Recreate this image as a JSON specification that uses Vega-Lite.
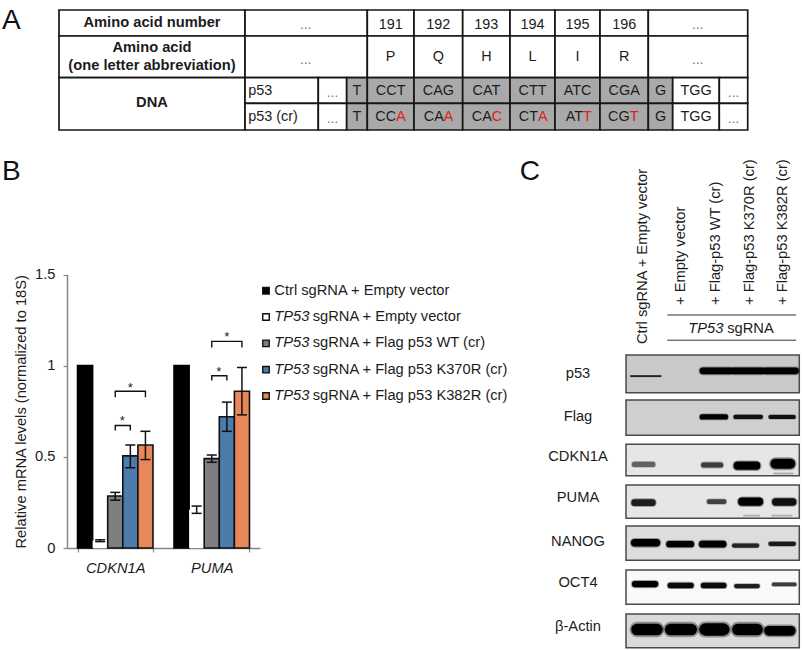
{
"$schema":"https://vega.github.io/schema/vega-lite/v6.json",
"width":802,"height":650,"padding":0,"autosize":{"type":"none"},"background":"white",
"config":{"font":"Liberation Sans","view":{"stroke":null},"text":{"color":"#1c1c1c"}},
"resolve":{"scale":{"x":"independent","y":"independent","fill":"independent","stroke":"independent","strokeWidth":"independent"}},
"datasets":{
"letters":[{"letter":"A","fx":0.0025,"fy":0.032},{"letter":"B","fx":0.0025,"fy":0.264},{"letter":"C","fx":0.648,"fy":0.264}],
"cells":[
{"c0":0,"c1":1,"r0":0,"r1":1,"shade":"plain"},{"c0":1,"c1":4,"r0":0,"r1":1,"shade":"plain"},{"c0":4,"c1":5,"r0":0,"r1":1,"shade":"plain"},{"c0":5,"c1":6,"r0":0,"r1":1,"shade":"plain"},{"c0":6,"c1":7,"r0":0,"r1":1,"shade":"plain"},{"c0":7,"c1":8,"r0":0,"r1":1,"shade":"plain"},{"c0":8,"c1":9,"r0":0,"r1":1,"shade":"plain"},{"c0":9,"c1":10,"r0":0,"r1":1,"shade":"plain"},{"c0":10,"c1":13,"r0":0,"r1":1,"shade":"plain"},
{"c0":0,"c1":1,"r0":1,"r1":2,"shade":"plain"},{"c0":1,"c1":4,"r0":1,"r1":2,"shade":"plain"},{"c0":4,"c1":5,"r0":1,"r1":2,"shade":"plain"},{"c0":5,"c1":6,"r0":1,"r1":2,"shade":"plain"},{"c0":6,"c1":7,"r0":1,"r1":2,"shade":"plain"},{"c0":7,"c1":8,"r0":1,"r1":2,"shade":"plain"},{"c0":8,"c1":9,"r0":1,"r1":2,"shade":"plain"},{"c0":9,"c1":10,"r0":1,"r1":2,"shade":"plain"},{"c0":10,"c1":13,"r0":1,"r1":2,"shade":"plain"},
{"c0":0,"c1":1,"r0":2,"r1":4,"shade":"plain"},
{"c0":1,"c1":2,"r0":2,"r1":3,"shade":"plain"},{"c0":2,"c1":3,"r0":2,"r1":3,"shade":"plain"},{"c0":3,"c1":4,"r0":2,"r1":3,"shade":"seq"},{"c0":4,"c1":5,"r0":2,"r1":3,"shade":"seq"},{"c0":5,"c1":6,"r0":2,"r1":3,"shade":"seq"},{"c0":6,"c1":7,"r0":2,"r1":3,"shade":"seq"},{"c0":7,"c1":8,"r0":2,"r1":3,"shade":"seq"},{"c0":8,"c1":9,"r0":2,"r1":3,"shade":"seq"},{"c0":9,"c1":10,"r0":2,"r1":3,"shade":"seq"},{"c0":10,"c1":11,"r0":2,"r1":3,"shade":"seq"},{"c0":11,"c1":12,"r0":2,"r1":3,"shade":"plain"},{"c0":12,"c1":13,"r0":2,"r1":3,"shade":"plain"},
{"c0":1,"c1":2,"r0":3,"r1":4,"shade":"plain"},{"c0":2,"c1":3,"r0":3,"r1":4,"shade":"plain"},{"c0":3,"c1":4,"r0":3,"r1":4,"shade":"seq"},{"c0":4,"c1":5,"r0":3,"r1":4,"shade":"seq"},{"c0":5,"c1":6,"r0":3,"r1":4,"shade":"seq"},{"c0":6,"c1":7,"r0":3,"r1":4,"shade":"seq"},{"c0":7,"c1":8,"r0":3,"r1":4,"shade":"seq"},{"c0":8,"c1":9,"r0":3,"r1":4,"shade":"seq"},{"c0":9,"c1":10,"r0":3,"r1":4,"shade":"seq"},{"c0":10,"c1":11,"r0":3,"r1":4,"shade":"seq"},{"c0":11,"c1":12,"r0":3,"r1":4,"shade":"plain"},{"c0":12,"c1":13,"r0":3,"r1":4,"shade":"plain"}
],
"tableBold":[{"c":0.5,"r":0.5,"t":"Amino acid number"},{"c":0.5,"r":1.28,"t":"Amino acid"},{"c":0.5,"r":1.72,"t":"(one letter abbreviation)"},{"c":0.5,"r":3.0,"t":"DNA"}],
"tableText":[
{"c":4.5,"r":0.58,"t":"191"},{"c":5.5,"r":0.58,"t":"192"},{"c":6.5,"r":0.58,"t":"193"},{"c":7.5,"r":0.58,"t":"194"},{"c":8.5,"r":0.58,"t":"195"},{"c":9.5,"r":0.58,"t":"196"},
{"c":4.5,"r":1.5,"t":"P"},{"c":5.5,"r":1.5,"t":"Q"},{"c":6.5,"r":1.5,"t":"H"},{"c":7.5,"r":1.5,"t":"L"},{"c":8.5,"r":1.5,"t":"I"},{"c":9.5,"r":1.5,"t":"R"},
{"c":3.5,"r":2.5,"t":"T"},{"c":4.5,"r":2.5,"t":"CCT"},{"c":5.5,"r":2.5,"t":"CAG"},{"c":6.5,"r":2.5,"t":"CAT"},{"c":7.5,"r":2.5,"t":"CTT"},{"c":8.5,"r":2.5,"t":"ATC"},{"c":9.5,"r":2.5,"t":"CGA"},{"c":10.5,"r":2.5,"t":"G"},{"c":11.5,"r":2.5,"t":"TGG"},
{"c":3.5,"r":3.5,"t":"T"},{"c":10.5,"r":3.5,"t":"G"},{"c":11.5,"r":3.5,"t":"TGG"}],
"tableDots":[{"c":1.83,"r":0.58},{"c":11.54,"r":0.58},{"c":1.83,"r":1.58},{"c":11.54,"r":1.58},{"c":2.5,"r":2.6},{"c":12.5,"r":2.6},{"c":2.5,"r":3.6},{"c":12.5,"r":3.6}],
"tableLeft":[{"c":1.045,"r":2.5,"t":"p53"},{"c":1.045,"r":3.5,"t":"p53 (cr)"}],
"codons":[{"c":4.5,"r":3.5,"base":"CC","edit":"A"},{"c":5.5,"r":3.5,"base":"CA","edit":"A"},{"c":6.5,"r":3.5,"base":"CA","edit":"C"},{"c":7.5,"r":3.5,"base":"CT","edit":"A"},{"c":8.5,"r":3.5,"base":"AT","edit":"T"},{"c":9.5,"r":3.5,"base":"CG","edit":"T"}],
"bars":[
{"gene":"CDKN1A","group":"Ctrl","value":1},
{"gene":"CDKN1A","group":"Empty","value":0.04},
{"gene":"CDKN1A","group":"WT","value":0.285},
{"gene":"CDKN1A","group":"K370R","value":0.505},
{"gene":"CDKN1A","group":"K382R","value":0.565},
{"gene":"PUMA","group":"Ctrl","value":1},
{"gene":"PUMA","group":"Empty","value":0.21},
{"gene":"PUMA","group":"WT","value":0.49},
{"gene":"PUMA","group":"K370R","value":0.72},
{"gene":"PUMA","group":"K382R","value":0.86}],
"errors":[
{"gene":"CDKN1A","group":"Empty","low":0.035,"high":0.045},
{"gene":"CDKN1A","group":"WT","low":0.262,"high":0.305},
{"gene":"CDKN1A","group":"K370R","low":0.44,"high":0.565},
{"gene":"CDKN1A","group":"K382R","low":0.485,"high":0.64},
{"gene":"PUMA","group":"Empty","low":0.19,"high":0.23},
{"gene":"PUMA","group":"WT","low":0.47,"high":0.51},
{"gene":"PUMA","group":"K370R","low":0.64,"high":0.8},
{"gene":"PUMA","group":"K382R","low":0.73,"high":0.99}],
"brackets":[
{"b":"c1","gene":"CDKN1A","group":"WT","level":0.645,"o":1},{"b":"c1","gene":"CDKN1A","group":"WT","level":0.672,"o":2},{"b":"c1","gene":"CDKN1A","group":"K370R","level":0.672,"o":3},{"b":"c1","gene":"CDKN1A","group":"K370R","level":0.645,"o":4},
{"b":"c2","gene":"CDKN1A","group":"WT","level":0.827,"o":1},{"b":"c2","gene":"CDKN1A","group":"WT","level":0.86,"o":2},{"b":"c2","gene":"CDKN1A","group":"K382R","level":0.86,"o":3},{"b":"c2","gene":"CDKN1A","group":"K382R","level":0.827,"o":4},
{"b":"p1","gene":"PUMA","group":"WT","level":0.918,"o":1},{"b":"p1","gene":"PUMA","group":"WT","level":0.945,"o":2},{"b":"p1","gene":"PUMA","group":"K370R","level":0.945,"o":3},{"b":"p1","gene":"PUMA","group":"K370R","level":0.918,"o":4},
{"b":"p2","gene":"PUMA","group":"WT","level":1.10,"o":1},{"b":"p2","gene":"PUMA","group":"WT","level":1.133,"o":2},{"b":"p2","gene":"PUMA","group":"K382R","level":1.133,"o":3},{"b":"p2","gene":"PUMA","group":"K382R","level":1.10,"o":4}],
"starsLong":[{"gene":"CDKN1A","group":"K370R","level":0.875,"t":"*"},{"gene":"PUMA","group":"K370R","level":1.155,"t":"*"}],
"starsShort":[{"gene":"CDKN1A","group":"WT","level":0.694,"t":"*"},{"gene":"PUMA","group":"WT","level":0.963,"t":"*"}],
"swatches":[{"group":"Ctrl","slot":0},{"group":"Empty","slot":0},{"group":"WT","slot":0},{"group":"K370R","slot":0},{"group":"K382R","slot":0}],
"legendPlain":[{"group":"Ctrl","slot":1,"t":"Ctrl sgRNA + Empty vector"}],
"legendLead":[{"group":"Empty","slot":1,"t":"TP53"},{"group":"WT","slot":1,"t":"TP53"},{"group":"K370R","slot":1,"t":"TP53"},{"group":"K382R","slot":1,"t":"TP53"}],
"legendRest":[{"group":"Empty","slot":2,"t":"sgRNA + Empty vector"},{"group":"WT","slot":2,"t":"sgRNA + Flag p53 WT (cr)"},{"group":"K370R","slot":2,"t":"sgRNA + Flag p53 K370R (cr)"},{"group":"K382R","slot":2,"t":"sgRNA + Flag p53 K382R (cr)"}],
"panels":[
{"protein":"p53","top":0,"bottom":1,"left":0,"right":5,"labelAt":0.5,"labelLane":-1.385},
{"protein":"Flag","top":2,"bottom":3,"left":0,"right":5,"labelAt":2.47,"labelLane":-1.385},
{"protein":"CDKN1A","top":4,"bottom":5,"left":0,"right":5,"labelAt":4.39,"labelLane":-1.385},
{"protein":"PUMA","top":6,"bottom":7,"left":0,"right":5,"labelAt":6.38,"labelLane":-1.385},
{"protein":"NANOG","top":8,"bottom":9,"left":0,"right":5,"labelAt":8.46,"labelLane":-1.385},
{"protein":"OCT4","top":10,"bottom":11,"left":0,"right":5,"labelAt":10.38,"labelLane":-1.385},
{"protein":"β-Actin","top":12,"bottom":13,"left":0,"right":5,"labelAt":12.39,"labelLane":-1.385}],
"bands":[
{"protein":"p53","start":0.14,"end":1.0,"at":0.56,"thick":0.12,"intensity":0.85},
{"protein":"p53","start":2.22,"end":2.99,"at":0.42,"thick":0.52,"intensity":1},
{"protein":"p53","start":3.1,"end":3.93,"at":0.42,"thick":0.52,"intensity":1},
{"protein":"p53","start":4.05,"end":4.89,"at":0.42,"thick":0.52,"intensity":1},
{"protein":"Flag","start":2.2,"end":2.87,"at":2.48,"thick":0.4,"intensity":1},
{"protein":"Flag","start":3.16,"end":3.89,"at":2.48,"thick":0.33,"intensity":0.95},
{"protein":"Flag","start":4.17,"end":4.84,"at":2.48,"thick":0.31,"intensity":0.95},
{"protein":"CDKN1A","start":0.245,"end":0.77,"at":4.64,"thick":0.4,"intensity":0.55},
{"protein":"CDKN1A","start":2.24,"end":2.73,"at":4.66,"thick":0.4,"intensity":0.72},
{"protein":"CDKN1A","start":3.22,"end":3.76,"at":4.68,"thick":0.62,"intensity":1},
{"protein":"CDKN1A","start":4.31,"end":4.74,"at":4.62,"thick":0.76,"intensity":1},
{"protein":"CDKN1A","start":4.27,"end":4.81,"at":4.93,"thick":0.12,"intensity":0.25},
{"protein":"PUMA","start":0.25,"end":0.76,"at":6.53,"thick":0.52,"intensity":0.88},
{"protein":"PUMA","start":2.4,"end":2.83,"at":6.5,"thick":0.36,"intensity":0.7},
{"protein":"PUMA","start":3.35,"end":3.84,"at":6.5,"thick":0.62,"intensity":1},
{"protein":"PUMA","start":4.32,"end":4.81,"at":6.51,"thick":0.57,"intensity":0.95},
{"protein":"PUMA","start":3.4,"end":3.85,"at":6.92,"thick":0.12,"intensity":0.2},
{"protein":"PUMA","start":4.22,"end":4.78,"at":6.92,"thick":0.12,"intensity":0.2},
{"protein":"NANOG","start":0.25,"end":0.88,"at":8.49,"thick":0.57,"intensity":1},
{"protein":"NANOG","start":1.25,"end":1.875,"at":8.53,"thick":0.48,"intensity":1},
{"protein":"NANOG","start":2.2,"end":2.8,"at":8.53,"thick":0.52,"intensity":1},
{"protein":"NANOG","start":3.12,"end":3.78,"at":8.57,"thick":0.33,"intensity":0.85},
{"protein":"NANOG","start":4.17,"end":4.84,"at":8.52,"thick":0.33,"intensity":0.9},
{"protein":"OCT4","start":0.26,"end":0.84,"at":10.41,"thick":0.48,"intensity":1},
{"protein":"OCT4","start":1.28,"end":1.875,"at":10.45,"thick":0.43,"intensity":0.97},
{"protein":"OCT4","start":2.24,"end":2.82,"at":10.45,"thick":0.43,"intensity":0.97},
{"protein":"OCT4","start":3.18,"end":3.8,"at":10.47,"thick":0.33,"intensity":0.88},
{"protein":"OCT4","start":4.26,"end":4.87,"at":10.42,"thick":0.29,"intensity":0.72},
{"protein":"β-Actin","start":0.32,"end":0.89,"at":12.46,"thick":0.9,"intensity":1},
{"protein":"β-Actin","start":1.29,"end":1.88,"at":12.46,"thick":0.9,"intensity":1},
{"protein":"β-Actin","start":2.29,"end":2.81,"at":12.46,"thick":0.95,"intensity":1},
{"protein":"β-Actin","start":3.23,"end":3.78,"at":12.46,"thick":0.9,"intensity":1},
{"protein":"β-Actin","start":4.13,"end":4.75,"at":12.5,"thick":0.76,"intensity":1}],
"laneLabels":[
{"lane":0.5,"at":-0.055,"t":"Ctrl sgRNA + Empty vector"},
{"lane":1.59,"at":-0.25,"t":"+ Empty vector"},
{"lane":2.6,"at":-0.25,"t":"+ Flag-p53 WT (cr)"},
{"lane":3.58,"at":-0.25,"t":"+ Flag-p53 K370R (cr)"},
{"lane":4.54,"at":-0.25,"t":"+ Flag-p53 K382R (cr)"}],
"laneRules":[{"start":1.19,"end":4.91,"at":-0.2},{"start":1.19,"end":4.91,"at":-0.074}],
"sgLead":[{"lane":2.81,"at":-0.13,"t":"TP53"}],
"sgRest":[{"lane":2.92,"at":-0.13,"t":"sgRNA"}]
},
"layer":[
{"data":{"name":"letters"},"mark":{"type":"text","fontSize":28,"align":"left","baseline":"middle","color":"#111"},
 "encoding":{"x":{"field":"fx","type":"quantitative","axis":null,"scale":{"domain":[0,1],"range":[0,802]}},"y":{"field":"fy","type":"quantitative","axis":null,"scale":{"domain":[0,1],"range":[0,650]}},"text":{"field":"letter"}}},
{"layer":[
 {"data":{"name":"cells"},"mark":{"type":"rect","stroke":"#161616","strokeWidth":1.7},
  "encoding":{"x":{"field":"c0","type":"quantitative","axis":null,"scale":{"domain":[0,1,2,3,4,5,6,7,8,9,10,11,12,13],"range":[59,245,318.3,346.7,367.3,414,462.7,510,555,600,648.3,672.7,719.3,747.7]}},"x2":{"field":"c1"},
  "y":{"field":"r0","type":"quantitative","axis":null,"scale":{"domain":[0,1,2,3,4],"range":[10,36,77.7,103.3,130]}},"y2":{"field":"r1"},
  "fill":{"field":"shade","type":"nominal","legend":null,"scale":{"domain":["plain","seq"],"range":["#ffffff","#a9a9a9"]}}}},
 {"data":{"name":"tableBold"},"mark":{"type":"text","fontSize":14.7,"fontWeight":"bold","baseline":"middle"},
  "encoding":{"x":{"field":"c","type":"quantitative"},"y":{"field":"r","type":"quantitative"},"text":{"field":"t"}}},
 {"data":{"name":"tableText"},"mark":{"type":"text","fontSize":14.4,"baseline":"middle"},
  "encoding":{"x":{"field":"c","type":"quantitative"},"y":{"field":"r","type":"quantitative"},"text":{"field":"t"}}},
 {"data":{"name":"tableLeft"},"mark":{"type":"text","fontSize":14.4,"baseline":"middle","align":"left"},
  "encoding":{"x":{"field":"c","type":"quantitative"},"y":{"field":"r","type":"quantitative"},"text":{"field":"t"}}},
 {"data":{"name":"tableDots"},"mark":{"type":"text","fontSize":12,"baseline":"middle","color":"#666666","text":"…"},
  "encoding":{"x":{"field":"c","type":"quantitative"},"y":{"field":"r","type":"quantitative"}}},
 {"data":{"name":"codons"},"mark":{"type":"text","fontSize":14.4,"baseline":"middle","align":"right","dx":5.5},
  "encoding":{"x":{"field":"c","type":"quantitative"},"y":{"field":"r","type":"quantitative"},"text":{"field":"base"}}},
 {"data":{"name":"codons"},"mark":{"type":"text","fontSize":14.4,"baseline":"middle","align":"left","dx":5.5,"color":"#e0201c"},
  "encoding":{"x":{"field":"c","type":"quantitative"},"y":{"field":"r","type":"quantitative"},"text":{"field":"edit"}}}
]},
{"encoding":{
  "x":{"field":"gene","type":"nominal","scale":{"domain":["CDKN1A","PUMA"],"range":[67,260],"paddingInner":0.218,"paddingOuter":0.109}},
  "xOffset":{"field":"group","type":"nominal","scale":{"domain":["Ctrl","Empty","WT","K370R","K382R"]}},
  "y":{"type":"quantitative","scale":{"domain":[0,1.5],"range":[548,274.5]}}},
 "layer":[
 {"data":{"name":"bars"},"mark":{"type":"bar","strokeWidth":1.6},
  "encoding":{
   "x":{"field":"gene","type":"nominal","scale":{"domain":["CDKN1A","PUMA"],"range":[67,260],"paddingInner":0.218,"paddingOuter":0.109},
    "axis":{"orient":"bottom","title":null,"labelAngle":0,"labelFontSize":14.7,"labelFontStyle":"italic","labelColor":"#1c1c1c","labelPadding":8,"tickBand":"extent","tickSize":4,"tickColor":"#868686","tickWidth":1.2,"domainColor":"#868686","domainWidth":1.5,"offset":-102}},
   "y":{"field":"value","type":"quantitative","scale":{"domain":[0,1.5],"range":[548,274.5]},
    "axis":{"orient":"left","title":"Relative mRNA levels (normalized to 18S)","titleFontSize":14.7,"titleFontWeight":"normal","titleColor":"#1c1c1c","titlePadding":6,"values":[0,0.5,1,1.5],"format":"~g","grid":false,"labelFontSize":14.7,"labelColor":"#1c1c1c","labelPadding":8,"tickSize":4,"tickColor":"#868686","tickWidth":1.2,"domainColor":"#868686","domainWidth":1.5,"offset":-67}},
   "fill":{"field":"group","type":"nominal","legend":null,"scale":{"domain":["Ctrl","Empty","WT","K370R","K382R"],"range":["#000000","#ffffff","#7f7f7f","#4c7cac","#e8875a"]}},
   "stroke":{"field":"group","type":"nominal","legend":null,"scale":{"domain":["Ctrl","Empty","WT","K370R","K382R"],"range":["#000000","transparent","#111111","#111111","#111111"]}}}},
 {"data":{"name":"errors"},"mark":{"type":"rule","strokeWidth":1.5,"color":"#111"},
  "encoding":{"y":{"field":"low","type":"quantitative"},"y2":{"field":"high"}}},
 {"data":{"name":"errors"},"mark":{"type":"tick","size":10,"thickness":1.5,"color":"#111","opacity":1},
  "encoding":{"y":{"field":"low","type":"quantitative"}}},
 {"data":{"name":"errors"},"mark":{"type":"tick","size":10,"thickness":1.5,"color":"#111","opacity":1},
  "encoding":{"y":{"field":"high","type":"quantitative"}}},
 {"data":{"name":"brackets"},"mark":{"type":"line","strokeWidth":1.4,"color":"#111"},
  "encoding":{"y":{"field":"level","type":"quantitative"},"detail":{"field":"b"},"order":{"field":"o"}}},
 {"data":{"name":"starsLong"},"mark":{"type":"text","fontSize":13,"baseline":"middle"},
  "encoding":{"y":{"field":"level","type":"quantitative"},"text":{"field":"t"}}},
 {"data":{"name":"starsShort"},"mark":{"type":"text","fontSize":13,"baseline":"middle","dx":7},
  "encoding":{"y":{"field":"level","type":"quantitative"},"text":{"field":"t"}}}
]},
{"layer":[
 {"data":{"name":"swatches"},"mark":{"type":"square","size":42,"stroke":"#111","strokeWidth":1.4,"opacity":1},
  "encoding":{"x":{"field":"slot","type":"quantitative","axis":null,"scale":{"domain":[0,1,2],"range":[266,274.3,312.7]}},
   "y":{"field":"group","type":"nominal","axis":null,"scale":{"type":"point","padding":0,"domain":["Ctrl","Empty","WT","K370R","K382R"],"range":[290.7,396]}},
   "fill":{"field":"group","type":"nominal","legend":null,"scale":{"domain":["Ctrl","Empty","WT","K370R","K382R"],"range":["#000000","#ffffff","#7f7f7f","#4c7cac","#e8875a"]}}}},
 {"data":{"name":"legendPlain"},"mark":{"type":"text","fontSize":14.7,"align":"left","baseline":"middle"},
  "encoding":{"x":{"field":"slot","type":"quantitative"},"y":{"field":"group","type":"nominal"},"text":{"field":"t"}}},
 {"data":{"name":"legendLead"},"mark":{"type":"text","fontSize":14.7,"fontStyle":"italic","align":"left","baseline":"middle"},
  "encoding":{"x":{"field":"slot","type":"quantitative"},"y":{"field":"group","type":"nominal"},"text":{"field":"t"}}},
 {"data":{"name":"legendRest"},"mark":{"type":"text","fontSize":14.7,"align":"left","baseline":"middle"},
  "encoding":{"x":{"field":"slot","type":"quantitative"},"y":{"field":"group","type":"nominal"},"text":{"field":"t"}}}
]},
{"resolve":{"scale":{"strokeWidth":"independent"}},
 "layer":[
 {"data":{"name":"panels"},"mark":{"type":"rect","stroke":"#4a4a4a","strokeWidth":1.5},
  "encoding":{"x":{"field":"left","type":"quantitative","axis":null,"scale":{"domain":[0,5],"range":[626,799.3]}},"x2":{"field":"right"},
   "y":{"field":"top","type":"quantitative","axis":null,"scale":{"domain":[-1,0,1,2,3,4,5,6,7,8,9,10,11,12,13],"range":[155,355,392.7,400,435.3,444.3,475.7,485,518.3,526,560.3,570,604.3,614,647.7]}},"y2":{"field":"bottom"},
   "fill":{"field":"protein","type":"nominal","legend":null,"sort":null,"scale":{"domain":["p53","Flag","CDKN1A","PUMA","NANOG","OCT4","β-Actin"],"range":["#c9c9c9","#cfcfcf","#e6e6e6","#e6e6e6","#dddddd","#f9f9f9","#dadada"]}}}},
 {"data":{"name":"bands"},"mark":{"type":"rule","strokeCap":"round","opacity":0.35},
  "encoding":{"x":{"field":"start","type":"quantitative"},"x2":{"field":"end"},"y":{"field":"at","type":"quantitative"},
   "stroke":{"field":"intensity","type":"quantitative","legend":null,"scale":{"domain":[0,1],"range":["#e8e8e8","#000000"]}},
   "strokeWidth":{"field":"thick","type":"quantitative","legend":null,"scale":{"domain":[0,1],"range":[0,17]}}}},
 {"data":{"name":"bands"},"mark":{"type":"rule","strokeCap":"round"},
  "encoding":{"x":{"field":"start","type":"quantitative"},"x2":{"field":"end"},"y":{"field":"at","type":"quantitative"},
   "stroke":{"field":"intensity","type":"quantitative","legend":null,"scale":{"domain":[0,1],"range":["#e8e8e8","#000000"]}},
   "strokeWidth":{"field":"thick","type":"quantitative","legend":null,"scale":{"domain":[0,1],"range":[0,13]}}}},
 {"data":{"name":"panels"},"mark":{"type":"text","fontSize":14.7,"baseline":"middle"},
  "encoding":{"x":{"field":"labelLane","type":"quantitative"},"y":{"field":"labelAt","type":"quantitative"},"text":{"field":"protein"}}},
 {"data":{"name":"laneLabels"},"mark":{"type":"text","fontSize":14.7,"angle":270,"align":"left","baseline":"middle"},
  "encoding":{"x":{"field":"lane","type":"quantitative"},"y":{"field":"at","type":"quantitative"},"text":{"field":"t"}}},
 {"data":{"name":"laneRules"},"mark":{"type":"rule","strokeWidth":1,"color":"#333"},
  "encoding":{"x":{"field":"start","type":"quantitative"},"x2":{"field":"end"},"y":{"field":"at","type":"quantitative"}}},
 {"data":{"name":"sgLead"},"mark":{"type":"text","fontSize":14.7,"fontStyle":"italic","align":"right","baseline":"middle"},
  "encoding":{"x":{"field":"lane","type":"quantitative"},"y":{"field":"at","type":"quantitative"},"text":{"field":"t"}}},
 {"data":{"name":"sgRest"},"mark":{"type":"text","fontSize":14.7,"align":"left","baseline":"middle"},
  "encoding":{"x":{"field":"lane","type":"quantitative"},"y":{"field":"at","type":"quantitative"},"text":{"field":"t"}}}
]}
]
}
